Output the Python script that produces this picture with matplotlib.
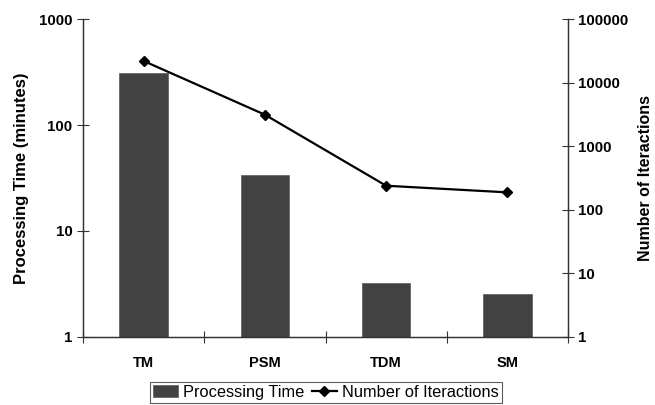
import matplotlib
matplotlib.use("Agg")
import matplotlib.pyplot as plt
import numpy as np
from matplotlib.ticker import FixedLocator, NullLocator, FixedFormatter

plt.rcParams['font.family'] = ['Liberation Sans', 'DejaVu Sans']

categories = ["TM", "PSM", "TDM", "SM"]
processing_time = [311, 33.7, 3.2, 2.55]
iterations = [21900, 3130, 239, 188]

fig = plt.figure(figsize=(6.55, 4.05), dpi=100)
ax = fig.add_axes([0.1267, 0.168, 0.7405, 0.785])
ax2 = ax.twinx()

x = np.arange(len(categories)) + 0.5
bars = ax.bar(x, processing_time, width=0.4, color="#424242", edgecolor="#5a5a5a",
              linewidth=0.5, label="Processing Time", zorder=2)
line, = ax2.plot(x, iterations, color="black", lw=1.6, marker="D", markersize=5.5,
                 label="Number of Iteractions", zorder=3)

ax.set_yscale("log")
ax.set_ylim(1, 1000)
ax2.set_yscale("log")
ax2.set_ylim(1, 100000)
ax.set_xlim(0, 4)

ax.yaxis.set_major_locator(FixedLocator([1, 10, 100, 1000]))
ax.yaxis.set_major_formatter(FixedFormatter(["1", "10", "100", "1000"]))
ax.yaxis.set_minor_locator(NullLocator())
ax2.yaxis.set_major_locator(FixedLocator([1, 10, 100, 1000, 10000, 100000]))
ax2.yaxis.set_major_formatter(FixedFormatter(["1", "10", "100", "1000", "10000", "100000"]))
ax2.yaxis.set_minor_locator(NullLocator())

ax.set_xticks([0, 1, 2, 3, 4])
ax.set_xticklabels([])
ax.set_xticks(x, minor=True)
ax.set_xticklabels(categories, minor=True, fontsize=10.5, fontweight="bold")
ax.tick_params(axis="x", which="minor", length=0, pad=14)
ax.tick_params(axis="x", which="major", direction="inout", length=8, width=0.8, color="#333333")
ax.tick_params(axis="y", which="major", direction="inout", length=8, width=0.8,
               labelsize=10.8, color="#333333")
ax2.tick_params(axis="y", which="major", direction="inout", length=8, width=0.8,
                labelsize=10.8, color="#333333")
for lab in ax.get_yticklabels() + ax2.get_yticklabels():
    lab.set_fontweight("bold")

for a in (ax, ax2):
    a.spines["top"].set_visible(False)
    for s in ("left", "right", "bottom"):
        a.spines[s].set_color("#333333")
        a.spines[s].set_linewidth(0.9)

ax.set_ylabel("Processing Time (minutes)", fontsize=12, fontweight="bold", labelpad=7)
ax2.set_ylabel("Number of Iteractions", fontsize=11.5, fontweight="bold", labelpad=7)

leg = fig.legend([bars, line], ["Processing Time", "Number of Iteractions"],
                 loc="center", bbox_to_anchor=(0.4977, 0.031), ncol=2,
                 frameon=True, fancybox=False, edgecolor="#333333", fontsize=11.8,
                 handlelength=1.5, handletextpad=0.35, columnspacing=0.45,
                 borderpad=0.2, borderaxespad=0)
leg.get_frame().set_linewidth(0.8)

fig.savefig("out.png", dpi=100)
